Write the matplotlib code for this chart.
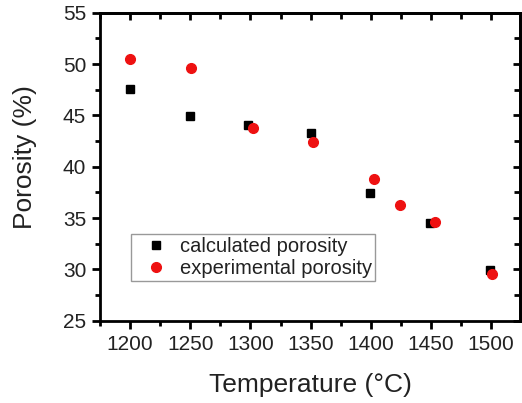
import numpy as np
import matplotlib
matplotlib.use('Agg')
import matplotlib.pyplot as plt
from matplotlib.ticker import MultipleLocator

plt.rcParams['font.family'] = ['Liberation Sans', 'DejaVu Sans']

# calculated porosity (squares)
temp_calc = [1200, 1250, 1298, 1350, 1399, 1449, 1499]
por_calc = [47.55, 44.9, 44.1, 43.3, 37.4, 34.55, 29.9]

# experimental porosity (circles)
temp_exp = [1200, 1251, 1302, 1352, 1403, 1424, 1453, 1501]
por_exp = [50.45, 49.6, 43.8, 42.45, 38.85, 36.25, 34.6, 29.55]

fig = plt.figure(figsize=(5.22, 4.03), dpi=100)
ax = fig.add_axes([0.1916, 0.2042, 0.8046, 0.7643])

ax.plot(temp_calc, por_calc, 's', color='black', ms=6, label='calculated porosity')
ax.plot(temp_exp, por_exp, 'o', color='#ee1111', ms=7, label='experimental porosity')

ax.set_xlim(1175, 1524)
ax.set_ylim(25, 55)
ax.xaxis.set_major_locator(MultipleLocator(50))
ax.xaxis.set_minor_locator(MultipleLocator(25))
ax.yaxis.set_major_locator(MultipleLocator(5))
ax.yaxis.set_minor_locator(MultipleLocator(2.5))

for s in ax.spines.values():
    s.set_linewidth(2)

ax.tick_params(which='both', direction='out', width=2, labelsize=15, pad=4,
               colors='black', labelcolor='#222222')
ax.tick_params(which='major', length=6)
ax.tick_params(which='minor', length=3.5)

# inward ticks on top and right
top = ax.secondary_xaxis('top')
top.xaxis.set_major_locator(MultipleLocator(50))
top.xaxis.set_minor_locator(MultipleLocator(25))
top.tick_params(which='both', direction='in', width=2, labeltop=False)
top.tick_params(which='major', length=5)
top.tick_params(which='minor', length=4)
top.spines['top'].set_linewidth(2)

right = ax.secondary_yaxis('right')
right.yaxis.set_major_locator(MultipleLocator(5))
right.yaxis.set_minor_locator(MultipleLocator(2.5))
right.tick_params(which='both', direction='in', width=2, labelright=False)
right.tick_params(which='major', length=5)
right.tick_params(which='minor', length=4)
right.spines['right'].set_linewidth(2)

ax.set_xlabel('Temperature (°C)', fontsize=19, color='#222222', labelpad=14)
ax.set_ylabel('Porosity (%)', fontsize=19, color='#222222')
ax.yaxis.set_label_coords(-0.15, 0.532)

leg = ax.legend(loc='lower left', bbox_to_anchor=(0.073, 0.129), fontsize=14.5,
                frameon=True, fancybox=False, edgecolor='#999999', framealpha=1,
                borderpad=0.15, labelspacing=0.15, handlelength=2.2,
                handletextpad=0.1, borderaxespad=0)
leg.get_frame().set_linewidth(1)
for t in leg.get_texts():
    t.set_color('#222222')

fig.savefig('out.png', dpi=100)
